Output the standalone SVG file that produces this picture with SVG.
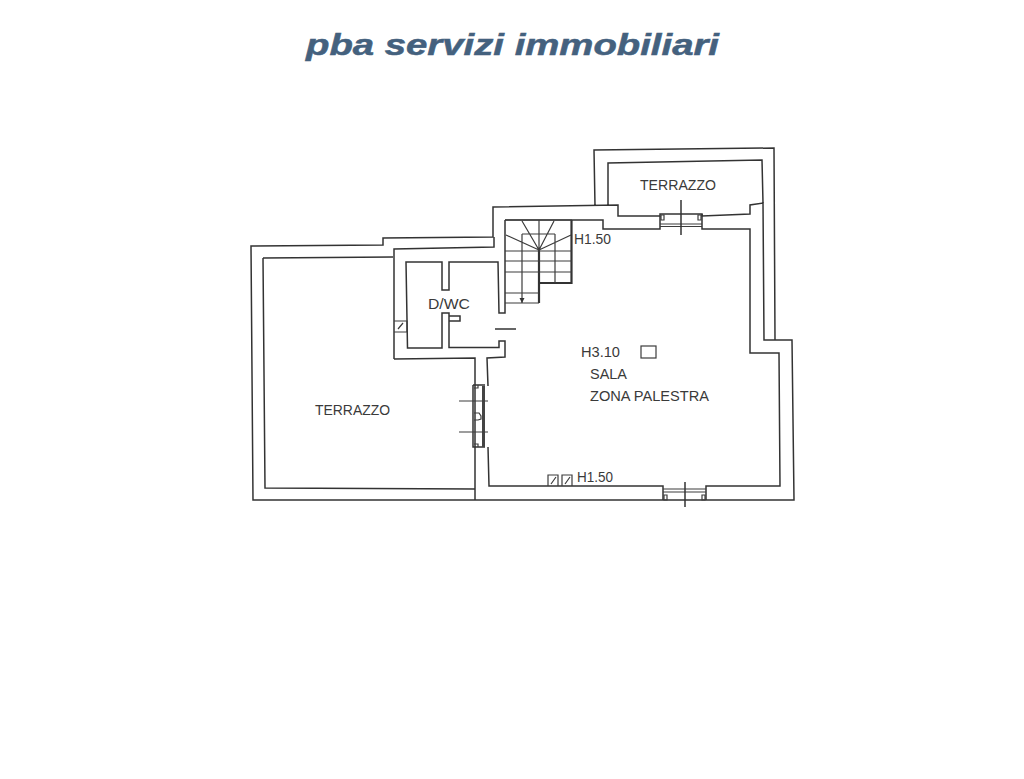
<svg xmlns="http://www.w3.org/2000/svg" width="1024" height="779" viewBox="0 0 1024 779">
<style>
.w{fill:none;stroke:#333;stroke-width:1.5;stroke-linejoin:miter}
.t{fill:none;stroke:#3c3c3c;stroke-width:1.2}
.h{fill:none;stroke:#333;stroke-width:2.2}
.l{font-family:"Liberation Sans",Arial,sans-serif;font-size:15px;fill:#3a3a3a}
</style>
<rect width="1024" height="779" fill="#fff"/>
<text x="306" y="55" font-family="Liberation Sans,Arial,sans-serif" font-size="29" font-weight="700" font-style="italic" fill="#44617e" stroke="#44617e" stroke-width="0.5" textLength="413" lengthAdjust="spacingAndGlyphs">pba servizi immobiliari</text>
<g id="walls">
<path class="w" d="M475 500H253L251 246L383 245V238L493 237V207L618 205V216H660V214H702V216L750 214V205L763 203L764 340H775M763 203L762 160L608 163V205M595 206L594 150L774 148L775 340H792L794 500H475"/>
<path class="w" d="M263 258L393 257M263 258L265 488L475 489M475 386V500"/>
<path class="w" d="M394 359V249L494 247V237M505 220V313H499L498 262H449V290H442V262H406L407.500 348H442V313H449V347.500H499V341H505V357L487 358L488 386M475 386V358L394 359"/>
<path class="w" d="M449 316H460V321H449"/>
<path class="w" d="M505 220H603V229H660V216M702 214V229H750V353H779L780 486H706V500M663 500V486H489L488 447"/>
</g>
<g id="top-window">
<path class="t" d="M660 224H702M660 226.500H702M661 215H664V220H661ZM698 215H701V220H698Z"/>
<path class="w" d="M681 200V235"/>
</g>
<g id="bottom-window">
<path class="t" d="M663 489H706M663 492H706"/>
<path class="t" d="M664 495H667V500H664ZM702 495H705V500H702Z"/>
<path class="w" d="M685 482V507"/>
</g>
<g id="left-window">
<path class="w" d="M473 385H485M473 385V447H485"/>
<path d="M482 386H485V447H482Z" fill="#444"/>
<path class="t" d="M459 401H488M459 432H488M474 413H479L481 416V419L478 420H474M474 388H478V385M474 444H478V447"/>
</g>
<g id="stairs">
<path class="h" d="M571.500 220V283H539M539 250V303"/>
<path class="t" d="M505 220H572M505 251H572M505 261H572M505 272H572M505 293H539M505 303H539M522 234H555M522 234V303M555 234V283M539 220V250M539 250L522 221M539 250L554 221M539 250L506 235M539 250L571 235"/>
<path d="M519.500 298H524.500L522 303Z" fill="#333"/>
</g>
<g id="fixtures">
<path class="w" d="M495 329H516"/>
<rect class="t" x="641" y="346" width="15" height="12"/>
<path class="t" d="M548 486V475H558V486M551 484L556 477M562 486V475H572V486M565 484L570 477"/>
<path class="t" d="M394 321H407V332H394M398 329L403 323"/>
</g>
<g id="labels">
<text class="l" x="640" y="190" textLength="76" lengthAdjust="spacingAndGlyphs">TERRAZZO</text>
<text class="l" x="574" y="244" textLength="37" lengthAdjust="spacingAndGlyphs">H1.50</text>
<text class="l" x="581" y="357" textLength="39" lengthAdjust="spacingAndGlyphs">H3.10</text>
<text class="l" x="590" y="379" textLength="37" lengthAdjust="spacingAndGlyphs">SALA</text>
<text class="l" x="590" y="401" textLength="119" lengthAdjust="spacingAndGlyphs">ZONA PALESTRA</text>
<text class="l" x="315" y="415" textLength="75" lengthAdjust="spacingAndGlyphs">TERRAZZO</text>
<text class="l" x="428" y="309" textLength="42" lengthAdjust="spacingAndGlyphs">D/WC</text>
<text class="l" x="577" y="482" textLength="36" lengthAdjust="spacingAndGlyphs">H1.50</text>
</g>
</svg>
